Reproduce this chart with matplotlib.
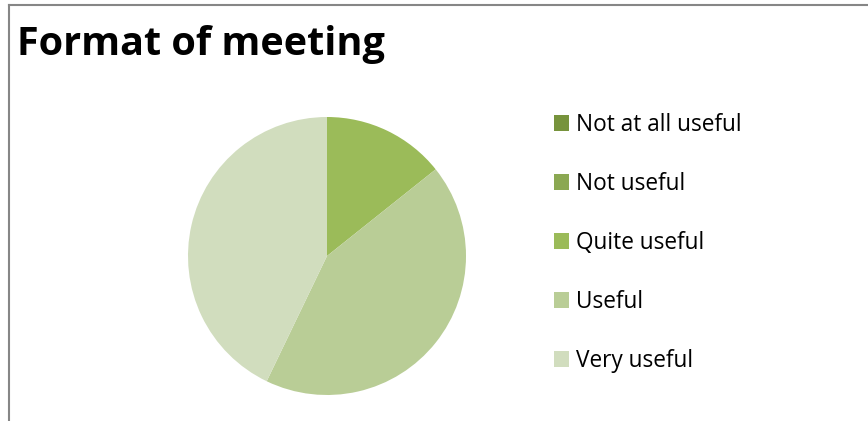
import matplotlib
matplotlib.use("Agg")
import matplotlib.pyplot as plt
from matplotlib.lines import Line2D

categories = ["Not at all useful", "Not useful", "Quite useful", "Useful", "Very useful"]
values = [0, 0, 1, 3, 3]
colors = ["#77933C", "#8BA852", "#9BBB59", "#B9CD96", "#D1DDBE"]
title = "Format of meeting"

W, H = 868, 421
fig = plt.figure(figsize=(W / 100, H / 100), dpi=100)
fig.patch.set_facecolor("white")

# border (left and top)
fig.add_artist(Line2D([8.5 / W, 8.5 / W], [0, 1 - 4.5 / H], color="#868686", lw=1.5, transform=fig.transFigure))
fig.add_artist(Line2D([8.5 / W, 1], [1 - 4.5 / H, 1 - 4.5 / H], color="#868686", lw=1.5, transform=fig.transFigure))

fig.text(17 / W, 1 - 45 / H, title, fontsize=28.5, fontweight="bold", family="Open Sans",
         va="center", ha="left", color="black")

cx, cy, r = 327, 256, 139
ax = fig.add_axes([(cx - r) / W, (H - cy - r) / H, 2 * r / W, 2 * r / H])
wedges, _ = ax.pie(values, colors=colors, startangle=90, counterclock=False,
                   wedgeprops=dict(linewidth=0))
ax.set_aspect("equal")
ax.set_xlim(-1, 1)
ax.set_ylim(-1, 1)

leg = fig.legend(wedges, categories, loc="upper left", bbox_to_anchor=(554 / W, 1 - 113 / H),
                 frameon=False, handlelength=0.65, handleheight=0.65,
                 handletextpad=0.3, labelspacing=1.545, borderaxespad=0, borderpad=0,
                 prop={"family": "Open Sans", "size": 16.3})
for t in leg.get_texts():
    t.set_color("black")

fig.savefig("out.png", dpi=100)
